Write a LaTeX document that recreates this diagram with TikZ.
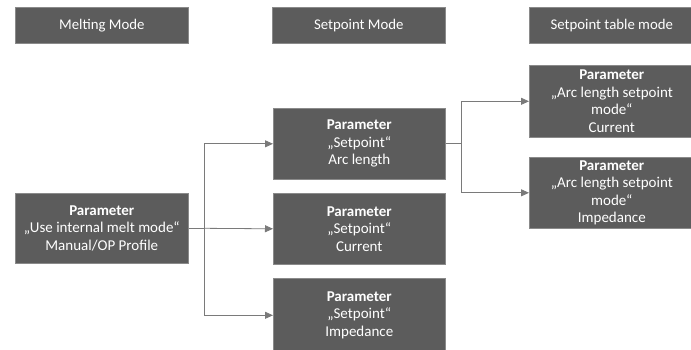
\documentclass[tikz,border=0pt]{standalone}
\usepackage{fontspec}
\setmainfont{Carlito}
\usetikzlibrary{arrows.meta}
\definecolor{boxfill}{HTML}{5C5C5C}
\definecolor{boxline}{HTML}{8A8A8A}
\definecolor{conn}{HTML}{7A7A7A}
\tikzset{
  hdr/.style={draw=boxline, fill=boxfill, text=white, line width=0.6pt, anchor=north west, inner sep=0pt, font=\fontsize{14.8}{17}\selectfont},
  pbox/.style={draw=boxline, fill=boxfill, text=white, line width=0.6pt, align=center, anchor=north west, inner sep=0pt, font=\fontsize{15}{17.5}\selectfont},
  conline/.style={draw=conn, line width=0.8pt},
  arr/.style={conline, -{Triangle[length=8pt,width=7pt]}}
}
\begin{document}
\begin{tikzpicture}[x=1pt,y=-1pt]
\useasboundingbox (0,0) rectangle (691,349);
% headers
\node[hdr, minimum width=173pt, minimum height=36pt] (h1) at (15,7) {Melting Mode};
\node[hdr, minimum width=173pt, minimum height=36pt] (h2) at (272,7) {Setpoint Mode};
\node[hdr, minimum width=165pt, minimum height=36pt] (h3) at (529,7) {Setpoint table mode};
% left
\node[pbox, minimum width=173pt, minimum height=70pt] (m) at (15,193) {\textbf{Parameter}\\„Use internal melt mode“\\Manual/OP Profile};
% middle
\node[pbox, minimum width=172pt, minimum height=71pt] (s1) at (273,108) {\textbf{Parameter}\\„Setpoint“\\Arc length};
\node[pbox, minimum width=172pt, minimum height=71pt] (s2) at (273,193) {\textbf{Parameter}\\„Setpoint“\\Current};
\node[pbox, minimum width=172pt, minimum height=74pt] (s3) at (273,278) {\textbf{Parameter}\\„Setpoint“\\Impedance};
% right
\node[pbox, minimum width=165pt, minimum height=72pt] (t1) at (529,65) {\textbf{Parameter}\\„Arc length setpoint\\mode“\\Current};
\node[pbox, minimum width=165pt, minimum height=71pt] (t2) at (529,157) {\textbf{Parameter}\\„Arc length setpoint\\mode“\\Impedance};
% connectors
\coordinate (bx) at (204,0);
\coordinate (cx) at (461,0);
\draw[conline] (m.east) -- (m.east -| bx);
\draw[arr] (m.east -| bx) |- (s1.west);
\draw[arr] (m.east -| bx) -- (s2.west);
\draw[arr] (m.east -| bx) |- (s3.west);
\draw[conline] (s1.east) -- (s1.east -| cx);
\draw[arr] (s1.east -| cx) |- (t1.west);
\draw[arr] (s1.east -| cx) |- (t2.west);
\end{tikzpicture}
\end{document}
